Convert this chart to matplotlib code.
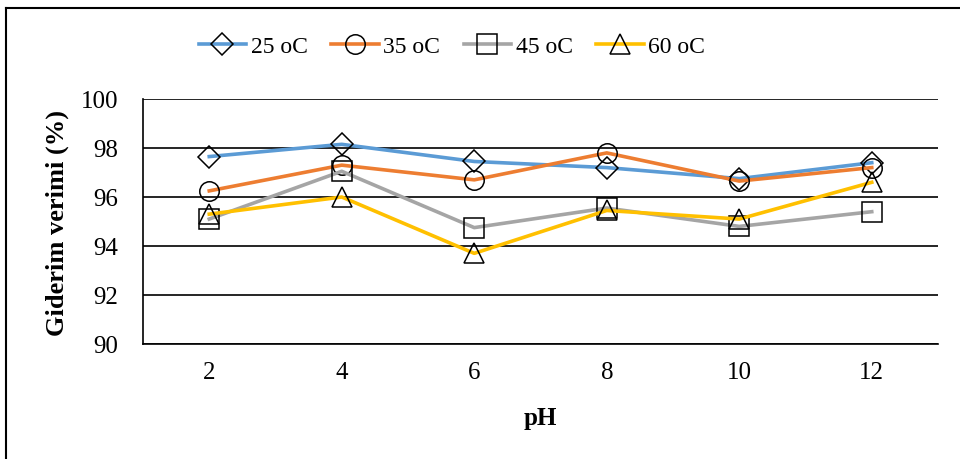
import matplotlib.pyplot as plt
from matplotlib.lines import Line2D

plt.rcParams['font.family'] = ['Liberation Serif', 'DejaVu Serif']

ph = ['2', '4', '6', '8', '10', '12']
t25 = [97.65, 98.15, 97.45, 97.2, 96.75, 97.4]
t35 = [96.25, 97.3, 96.7, 97.8, 96.65, 97.2]
t45 = [95.1, 97.05, 94.75, 95.55, 94.8, 95.4]
t60 = [95.3, 96.0, 93.7, 95.45, 95.1, 96.6]

series = [
    ('25 oC', t25, '#5B9BD5', 'D', 11),
    ('35 oC', t35, '#ED7D31', 'o', 14),
    ('45 oC', t45, '#A5A5A5', 's', 14),
    ('60 oC', t60, '#FFC000', '^', 15),
]

fig = plt.figure(figsize=(9.6, 4.6), dpi=100)
ax = fig.add_axes([143 / 960, 1 - 345 / 460, 795 / 960, 245 / 460])

x = list(range(len(ph)))
for name, vals, color, marker, ms in series:
    ax.plot(x, vals, color=color, lw=2.6, marker=marker, ms=ms,
            mfc='none', mec='black', mew=1.1, label=name, zorder=3)

ax.set_xlim(-0.5, len(ph) - 0.5)
ax.set_ylim(90, 100)
ax.set_yticks([90, 92, 94, 96, 98, 100])
ax.set_xticks(x)
ax.set_xticklabels(ph)
ax.tick_params(axis='both', length=0, labelsize=18)
ax.tick_params(axis='x', pad=12)
ax.tick_params(axis='y', pad=18)
ax.grid(axis='y', color='black', lw=1.2)
ax.set_axisbelow(True)
for side in ['top', 'right']:
    ax.spines[side].set_visible(False)
ax.spines['left'].set_linewidth(1.2)
ax.spines['bottom'].set_linewidth(1.2)

ax.set_xlabel('pH', fontsize=18, fontweight='bold', labelpad=17)
ax.set_ylabel('Giderim verimi (%)', fontsize=19, fontweight='bold', labelpad=8)

# legend sits centred over the whole chart frame, left of the plot centre
ax.legend(loc='center', bbox_to_anchor=(309 / 795, 1 + 53 / 245), ncol=4, frameon=False,
          fontsize=17, handlelength=2.0, handletextpad=0.2, columnspacing=1.0,
          borderaxespad=0)

# chart frame (top and left edges)
fig.add_artist(Line2D([6 / 960, 6 / 960], [0, 1 - 9 / 460], color='black', lw=1.5,
                      transform=fig.transFigure))
fig.add_artist(Line2D([6 / 960, 1], [1 - 9 / 460, 1 - 9 / 460], color='black', lw=1.5,
                      transform=fig.transFigure))

fig.savefig('out.png', dpi=100)
